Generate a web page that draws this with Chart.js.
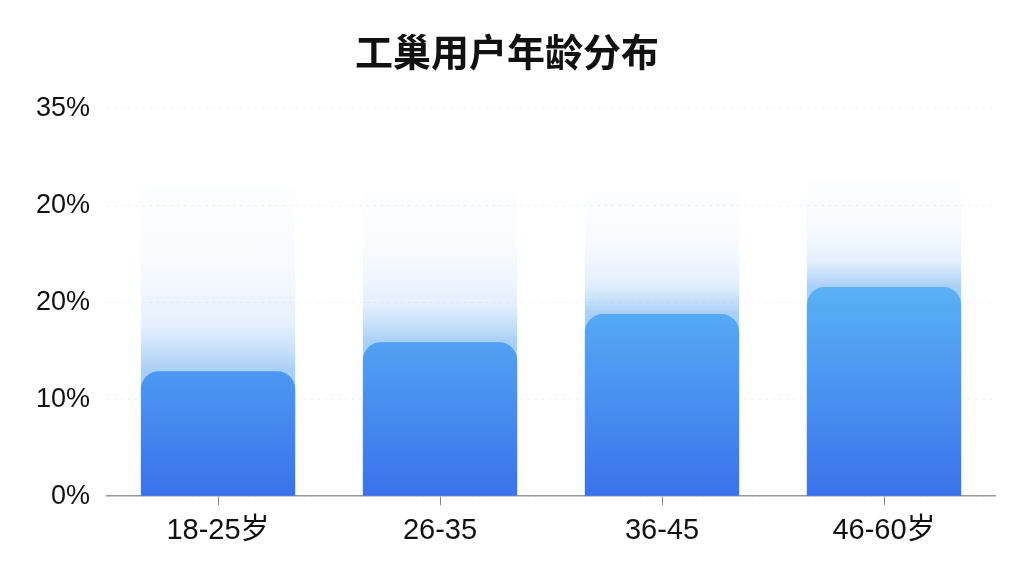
<!DOCTYPE html>
<html>
<head>
<meta charset="utf-8">
<script src="https://cdn.jsdelivr.net/npm/chart.js@4"></script>
<style>
  html, body { margin: 0; padding: 0; background: #fff; }
  #wrap { width: 1024px; height: 576px; }
</style>
</head>
<body>
<div id="wrap"><canvas id="ageChart"></canvas></div>
<script>
// 数据
var categories = ['18-25岁', '26-35', '36-45', '46-60岁'];
var shareData = [12.9, 15.9, 18.8, 21.6];
var glowData = [32, 31.5, 31.5, 32.6];
var yTickLabels = ['0%', '10%', '20%', '20%', '35%'];

var fontFamily = "'Liberation Sans', 'Noto Sans CJK SC', sans-serif";

document.addEventListener("DOMContentLoaded", function () {
    var ctx = document.getElementById('ageChart').getContext('2d');

    // 主柱的渐变（按坐标轴）
    function barGradient(context) {
        var chart = context.chart;
        var area = chart.chartArea;
        if (!area) return '#4a90ee';
        var y = chart.scales.y;
        var g = chart.ctx.createLinearGradient(0, y.getPixelForValue(0), 0, y.getPixelForValue(22));
        g.addColorStop(0, '#3a72ec');
        g.addColorStop(1, '#5ab3f6');
        return g;
    }

    // 柱顶上方的淡色光晕
    function glowGradient(context) {
        var chart = context.chart;
        var area = chart.chartArea;
        if (!area) return 'rgba(90,170,245,0.2)';
        var y = chart.scales.y;
        var i = context.dataIndex;
        var top = y.getPixelForValue(glowData[i]);
        var start = y.getPixelForValue(shareData[i]);
        var g = chart.ctx.createLinearGradient(0, start, 0, top);
        g.addColorStop(0, 'rgba(80,160,240,0.5)');
        g.addColorStop(0.25, 'rgba(120,180,245,0.2)');
        g.addColorStop(0.6, 'rgba(170,205,250,0.09)');
        g.addColorStop(1, 'rgba(220,232,252,0.05)');
        return g;
    }

    var ageChart = new Chart(ctx, {
        type: 'bar',
        data: {
            labels: categories,
            datasets: [{
                label: '占比',
                data: shareData,
                backgroundColor: barGradient,
                borderRadius: 18,
                borderSkipped: 'start',
                grouped: false,
                order: 1
            }, {
                label: 'glow',
                data: glowData,
                backgroundColor: glowGradient,
                borderWidth: 0,
                grouped: false,
                order: 2
            }]
        },
        options: {
            responsive: true,
            maintainAspectRatio: false,
            animation: false,
            categoryPercentage: 1.0,
            barPercentage: 0.695,
            layout: { padding: { left: 19, right: 29, bottom: 20 } },
            plugins: {
                legend: { display: false },
                tooltip: { enabled: false },
                title: {
                    display: true,
                    text: '工巢用户年龄分布',
                    color: '#111',
                    font: { family: fontFamily, size: 38, weight: 'bold' },
                    padding: { top: 33, bottom: 30 }
                }
            },
            scales: {
                x: {
                    grid: {
                        display: true,
                        drawOnChartArea: false,
                        offset: false,
                        tickLength: 9,
                        color: '#888'
                    },
                    border: { display: true, color: '#999', width: 1.5 },
                    ticks: {
                        color: '#111',
                        padding: 8,
                        font: { family: fontFamily, size: 29 }
                    }
                },
                y: {
                    min: 0,
                    max: 40,
                    border: { display: false, dash: [3, 4] },
                    grid: {
                        drawTicks: false,
                        color: 'rgba(0,0,0,0.05)'
                    },
                    ticks: {
                        stepSize: 10,
                        color: '#111',
                        padding: 17,
                        font: { family: fontFamily, size: 27 },
                        callback: function (value, index) {
                            return yTickLabels[index];
                        }
                    }
                }
            }
        }
    });
});
</script>
</body>
</html>
